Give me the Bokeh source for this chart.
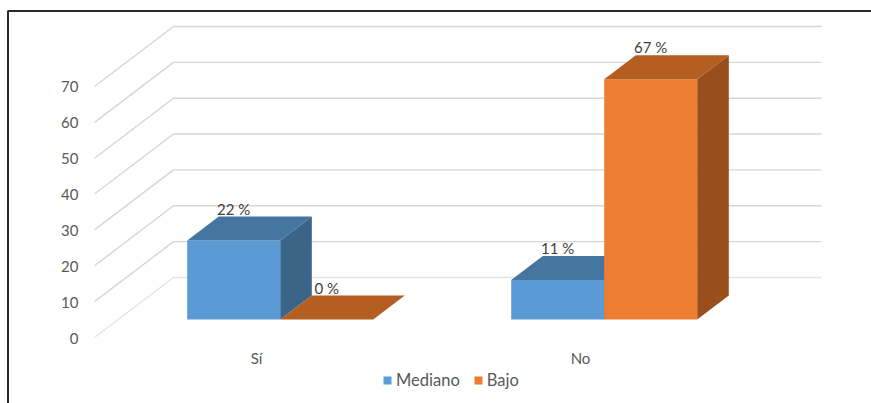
from bokeh.plotting import figure
from bokeh.models import Range1d, Legend, LegendItem
from bokeh.core.properties import value
from bokeh.embed import file_html
from bokeh.resources import INLINE

categories = ["Sí", "No"]
mediano = [22, 11]
bajo = [0, 67]
y_ticks = [0, 10, 20, 30, 40, 50, 60, 70]

FONT = "Lato"
W, H = 871, 403
PX_CAT = 324.0      # pixels per category
PX_UNIT = 3.586     # pixels per value unit
DX, DY = 79.0, 60.0 # 3D depth offset in pixels
ORIGIN_X, ORIGIN_Y = 94.0, 337.0  # zero point inside the figure

p = figure(width=W, height=H, output_backend="svg", toolbar_location=None,
           x_range=Range1d(-ORIGIN_X / PX_CAT, (W - ORIGIN_X) / PX_CAT),
           y_range=Range1d(-(H - ORIGIN_Y) / PX_UNIT, ORIGIN_Y / PX_UNIT),
           min_border=0, min_border_left=0, min_border_right=0,
           min_border_top=0, min_border_bottom=0,
           outline_line_color=None, background_fill_color="white")
p.xaxis.visible = False
p.yaxis.visible = False
p.grid.visible = False


def proj(cat, val, depth):
    """Oblique projection of (category position, value, depth 0..1)."""
    return cat + depth * DX / PX_CAT, val + depth * DY / PX_UNIT


# Frame of the pasted picture (left and top only)
fx = (7.5 - ORIGIN_X) / PX_CAT
fy = (ORIGIN_Y - 10.5) / PX_UNIT
p.line([fx, fx, (W + 5 - ORIGIN_X) / PX_CAT], [-(H - ORIGIN_Y) / PX_UNIT, fy, fy],
       line_color="#2b2b2b", line_width=2)

# Grid: side wall and back wall
for t in y_ticks:
    col = "#e4e4e4" if t == 0 else "#d6d6d6"
    a = proj(0, t, 0)
    b = proj(0, t, 1)
    c = proj(len(categories), t, 1)
    p.line([a[0], b[0], c[0]], [a[1], b[1], c[1]], line_color=col, line_width=1.4)

# Tick labels
p.text(x=[0] * len(y_ticks), y=y_ticks, text=[str(t) for t in y_ticks],
       text_font=value(FONT), text_font_size="15px", text_color="#595959",
       text_align="right", text_baseline="middle", x_offset=-16, y_offset=0.5)

BAR = 0.287
D0, D1 = 0.3, 0.7


def bar(cat, x0, x1, v, front, top, side):
    base = [proj(x0, 0, D0), proj(x1, 0, D0), proj(x1, v, D0), proj(x0, v, D0)]
    tp = [proj(x0, v, D0), proj(x1, v, D0), proj(x1, v, D1), proj(x0, v, D1)]
    sd = [proj(x1, 0, D0), proj(x1, 0, D1), proj(x1, v, D1), proj(x1, v, D0)]
    r = None
    if v > 0:
        p.patch([q[0] for q in sd], [q[1] for q in sd], fill_color=side, line_color=None)
        r = p.patch([q[0] for q in base], [q[1] for q in base], fill_color=front, line_color=None)
    p.patch([q[0] for q in tp], [q[1] for q in tp], fill_color=top, line_color=None)
    return r


swatches = {}
for i in range(len(categories)):
    c = i + 0.5
    r = bar(i, c - BAR, c, mediano[i], "#5B9BD5", "#4575A0", "#3A6488")
    if r is not None:
        swatches.setdefault("Mediano", r)
    r = bar(i, c, c + BAR, bajo[i], "#ED7D31", "#B45E21", "#994F1C")
    if r is not None:
        swatches.setdefault("Bajo", r)

    for x_mid, v in ((c - BAR / 2, mediano[i]), (c + BAR / 2, bajo[i])):
        lx, _ = proj(x_mid, v, D0)
        _, ly = proj(x_mid, v, D1)
        p.text(x=[lx], y=[ly], text=[f"{v} %"], text_font=value(FONT),
               text_font_size="15px", text_color="#404040", text_align="center",
               text_baseline="middle", y_offset=-8)

    p.text(x=[c], y=[0], text=[categories[i]], text_font=value(FONT),
           text_font_size="15px", text_color="#595959", text_align="center",
           text_baseline="middle", y_offset=20)

legend = Legend(items=[LegendItem(label=k, renderers=[swatches[k]]) for k in ("Mediano", "Bajo")],
                orientation="horizontal", location=(382, 13), border_line_color=None,
                background_fill_alpha=0, glyph_width=10, glyph_height=10, label_standoff=4,
                spacing=13, padding=0, margin=0, label_text_font=FONT,
                label_text_font_size="16.5px", label_text_color="#595959")
p.add_layout(legend, "center")

open("out.html", "w").write(file_html(p, INLINE))
